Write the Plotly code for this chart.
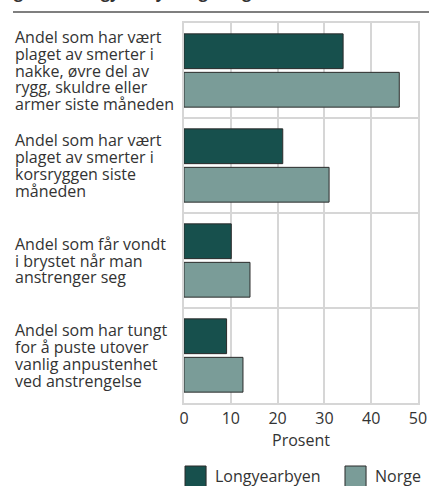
import plotly.graph_objects as go

categories = [
    "Andel som har vært<br>plaget av smerter i<br>nakke, øvre del av<br>rygg, skuldre eller<br>armer siste måneden",
    "Andel som har vært<br>plaget av smerter i<br>korsryggen siste<br>måneden",
    "Andel som får vondt<br>i brystet når man<br>anstrenger seg",
    "Andel som har tungt<br>for å puste utover<br>vanlig anpustenhet<br>ved anstrengelse",
]
longyearbyen = [34.0, 21.1, 10.1, 9.1]
norge = [46.0, 31.0, 14.1, 12.6]
series_names = ["Longyearbyen", "Norge"]
x_ticks = [0, 10, 20, 30, 40, 50]
x_title = "Prosent"
title_text = "gitt år. Longyearbyen og Norge"

DARK = "#17504D"
LIGHT = "#7A9C98"
GRID = "#D6D6D6"
TXT = "#333333"
EDGE = "#2b2b2b"
FONT = "Open Sans"

cat_ids = [f"c{i}" for i in range(len(categories))]

fig = go.Figure()
fig.add_trace(go.Bar(y=cat_ids, x=longyearbyen, orientation="h", name=series_names[0],
                     marker=dict(color=DARK, line=dict(color=EDGE, width=1))))
fig.add_trace(go.Bar(y=cat_ids, x=norge, orientation="h", name=series_names[1],
                     marker=dict(color=LIGHT, line=dict(color=EDGE, width=1))))

annotations = []
LINE_H = 16.8
for cid, lab in zip(cat_ids, categories):
    lines = lab.split("<br>")
    n = len(lines)
    for j, ln in enumerate(lines):
        annotations.append(dict(
            x=-0.7308, xref="paper", y=cid, yref="y", text=ln, showarrow=False,
            xanchor="left", yanchor="middle", align="left",
            yshift=((n - 1) / 2 - j) * LINE_H,
            font=dict(family=FONT, size=16, color=TXT)))

# cut-off title at the very top
annotations.append(dict(x=-0.735, xref="paper", y=1.0, yref="paper", yshift=18,
                        text=f"<b>{title_text}</b>", showarrow=False,
                        xanchor="left", yanchor="bottom",
                        font=dict(family=FONT, size=16, color=TXT)))

# manual legend
leg_x_sq = [0.0043, 0.688]
leg_x_tx = [0.124, 0.808]
shapes = [dict(type="line", xref="paper", yref="paper", x0=-0.7308, x1=1.047,
               y0=11, y1=11, ysizemode="pixel", yanchor=1.0,
               line=dict(color="#555555", width=1.5))]
for nm, col, xs, xt in zip(series_names, [DARK, LIGHT], leg_x_sq, leg_x_tx):
    shapes.append(dict(type="rect", xref="paper", yref="paper", x0=xs, x1=xs + 0.09,
                       y0=-0.221, y1=-0.1658, fillcolor=col, line=dict(color=EDGE, width=1)))
    annotations.append(dict(x=xt, xref="paper", y=-0.193, yref="paper", text=nm,
                            showarrow=False, xanchor="left", yanchor="middle",
                            font=dict(family=FONT, size=16, color=TXT)))

fig.update_layout(
    width=429, height=486,
    margin=dict(l=184, r=11, t=23, b=83, autoexpand=False),
    paper_bgcolor="white", plot_bgcolor="white",
    barmode="group", bargap=0.19, bargroupgap=0.096,
    showlegend=False,
    font=dict(family=FONT, size=16, color=TXT),
    xaxis=dict(range=[0, 50], tickvals=x_ticks, showgrid=True, gridcolor=GRID, gridwidth=2,
               zeroline=False, showline=True, linecolor=GRID, linewidth=2, mirror=True,
               ticks="", tickfont=dict(family=FONT, size=16, color=TXT), automargin=False,
               title=dict(text=x_title, font=dict(family=FONT, size=16, color=TXT), standoff=2)),
    yaxis=dict(categoryorder="array", categoryarray=cat_ids, autorange="reversed",
               tickson="boundaries", showgrid=True, gridcolor=GRID, gridwidth=2,
               showticklabels=False, ticks="", zeroline=False, automargin=False,
               showline=True, linecolor=GRID, linewidth=2, mirror=True),
    annotations=annotations,
    shapes=shapes,
)

fig.write_html("out.html", config={"displayModeBar": False},
               post_script="document.body.style.margin='0';document.body.style.overflow='hidden';")
